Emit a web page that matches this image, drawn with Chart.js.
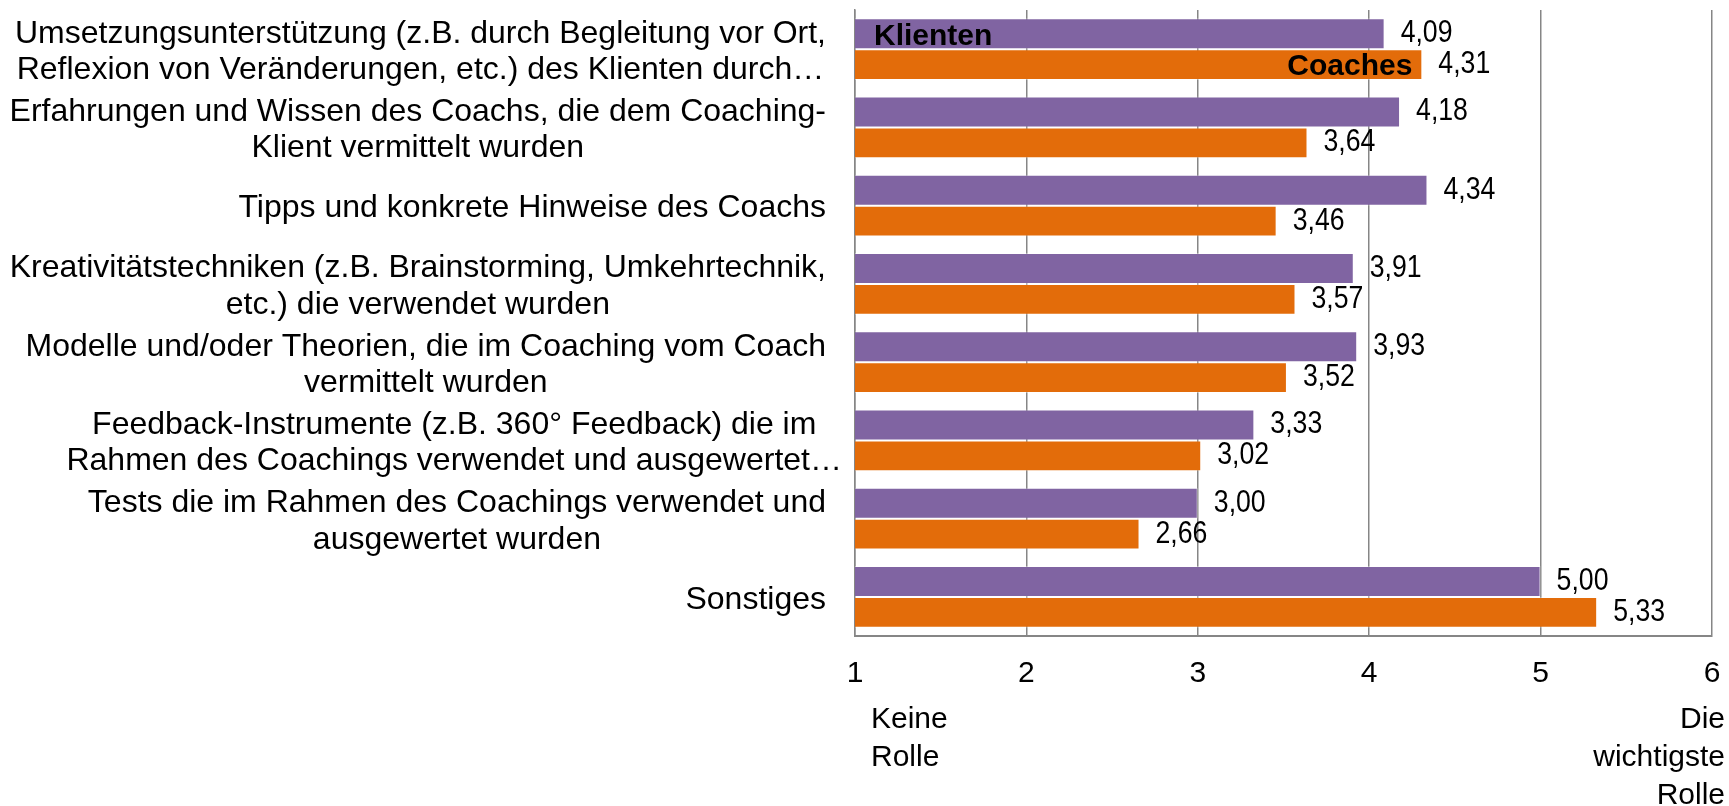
<!DOCTYPE html>
<html>
<head>
<meta charset="utf-8">
<script src="https://cdn.jsdelivr.net/npm/chart.js@4.4.1/dist/chart.umd.min.js"></script>
<style>
  html, body { margin: 0; padding: 0; background: #fff; }
  #wrap { width: 1729px; height: 806px; }
</style>
</head>
<body>
<div id="wrap"><canvas id="chart" width="1729" height="806"></canvas></div>
<script>
// Kategorien (Zeilen) der Auswertung
const categories = [
  ['Umsetzungsunterstützung (z.B. durch Begleitung vor Ort,', 'Reflexion von Veränderungen, etc.) des Klienten durch…'],
  ['Erfahrungen und Wissen des Coachs, die dem Coaching-', 'Klient vermittelt wurden'],
  ['Tipps und konkrete Hinweise des Coachs'],
  ['Kreativitätstechniken (z.B. Brainstorming, Umkehrtechnik,', 'etc.) die verwendet wurden'],
  ['Modelle und/oder Theorien, die im Coaching vom Coach', 'vermittelt wurden'],
  ['Feedback-Instrumente (z.B. 360° Feedback) die im', 'Rahmen des Coachings verwendet und ausgewertet…'],
  ['Tests die im Rahmen des Coachings verwendet und', 'ausgewertet wurden'],
  ['Sonstiges']
];

const seriesNames = ['Klienten', 'Coaches'];
const klienten = [4.09, 4.18, 4.34, 3.91, 3.93, 3.33, 3.00, 5.00];
const coaches  = [4.31, 3.64, 3.46, 3.57, 3.52, 3.02, 2.66, 5.33];

const scaleMin = 1;
const scaleMax = 6;
const lowLabel  = ['Keine', 'Rolle'];
const highLabel = ['Die', 'wichtigste', 'Rolle'];

const PURPLE = '#8064A2';
const ORANGE = '#E36C0A';
const GRID = '#868686';
const FONT = '"Liberation Sans", Arial, sans-serif';
const NARROW = '"Liberation Sans Narrow", "Arial Narrow", "Liberation Sans", Arial, sans-serif';

function fmt(v) {
  return v.toFixed(2).replace('.', ',');
}

// Beschriftungen: Kategorien, Werte, Serien-Namen, Skalen-Enden
const textPlugin = {
  id: 'textPlugin',
  afterDatasetsDraw(chart) {
    const ctx = chart.ctx;
    const xs = chart.scales.x;
    const ys = chart.scales.y;
    const x0 = xs.getPixelForValue(scaleMin);
    ctx.save();
    ctx.fillStyle = '#000';

    // category labels, each block centred on its own widest line
    ctx.font = '32px ' + FONT;
    ctx.textAlign = 'center';
    ctx.textBaseline = 'middle';
    const right = x0 - 29;
    const gap = 36.5;
    categories.forEach((lines, i) => {
      const cy = ys.getPixelForTick(i) + 3;
      const widest = Math.max(...lines.map(l => ctx.measureText(l.replace('…', '')).width));
      const cx = right - widest / 2;
      lines.forEach((l, k) => {
        ctx.fillText(l, cx, cy + (k - (lines.length - 1) / 2) * gap);
      });
    });

    // value labels, narrow digits
    ctx.font = '31px ' + NARROW;
    const wNarrow = ctx.measureText('4,09').width;
    ctx.font = '31px ' + FONT;
    const wWide = ctx.measureText('4,09').width;
    const squeeze = wNarrow < wWide - 1 ? 1 : 0.86;
    ctx.font = '31px ' + NARROW;
    ctx.textAlign = 'left';
    chart.data.datasets.forEach((ds, di) => {
      const meta = chart.getDatasetMeta(di);
      meta.data.forEach((bar, i) => {
        ctx.save();
        ctx.translate(bar.x + 16, bar.y);
        ctx.scale(squeeze, 1);
        ctx.fillText(fmt(ds.data[i]), 0, 0);
        ctx.restore();
      });
    });

    // series names inside the first pair of bars
    ctx.font = 'bold 30px ' + FONT;
    const p0 = chart.getDatasetMeta(0).data[0];
    const c0 = chart.getDatasetMeta(1).data[0];
    ctx.textAlign = 'left';
    ctx.fillText(seriesNames[0], x0 + 19, p0.y + 3);
    ctx.textAlign = 'right';
    ctx.fillText(seriesNames[1], c0.x - 10, c0.y + 2);

    // scale end descriptions under the axis
    ctx.font = '30px ' + FONT;
    ctx.textBaseline = 'alphabetic';
    const base = chart.chartArea.bottom + 92;
    ctx.textAlign = 'left';
    lowLabel.forEach((t, k) => ctx.fillText(t, x0 + 16, base + k * 38));
    ctx.textAlign = 'right';
    highLabel.forEach((t, k) => ctx.fillText(t, xs.getPixelForValue(scaleMax) + 13, base + k * 38));
    ctx.restore();
  }
};

new Chart(document.getElementById('chart'), {
  type: 'bar',
  data: {
    labels: categories,
    datasets: [
      {
        label: seriesNames[0],
        data: klienten,
        backgroundColor: PURPLE,
        borderColor: 'rgba(255,255,255,0.35)',
        borderWidth: 1,
        categoryPercentage: 0.79,
        barPercentage: 1.0
      },
      {
        label: seriesNames[1],
        data: coaches,
        backgroundColor: ORANGE,
        borderColor: 'rgba(255,255,255,0.35)',
        borderWidth: 1,
        categoryPercentage: 0.79,
        barPercentage: 1.0
      }
    ]
  },
  options: {
    indexAxis: 'y',
    responsive: false,
    animation: false,
    devicePixelRatio: 1,
    layout: { padding: { top: 10, right: 17, left: 0, bottom: 0 } },
    plugins: {
      legend: { display: false },
      tooltip: { enabled: false }
    },
    scales: {
      x: {
        min: scaleMin,
        max: scaleMax,
        ticks: {
          stepSize: 1,
          padding: 20,
          color: '#000',
          font: { family: FONT, size: 30 }
        },
        grid: { color: GRID, lineWidth: 1.5, drawTicks: false },
        border: { display: true, color: GRID, width: 2 },
        afterFit(s) {
          s.height = 170;
          s.paddingLeft = 0;
          s.paddingRight = 0;
        }
      },
      y: {
        ticks: { display: false },
        grid: { display: false, drawTicks: false },
        border: { display: true, color: GRID, width: 1.5 },
        afterFit(s) { s.width = 855; }
      }
    }
  },
  plugins: [textPlugin]
});
</script>
</body>
</html>
